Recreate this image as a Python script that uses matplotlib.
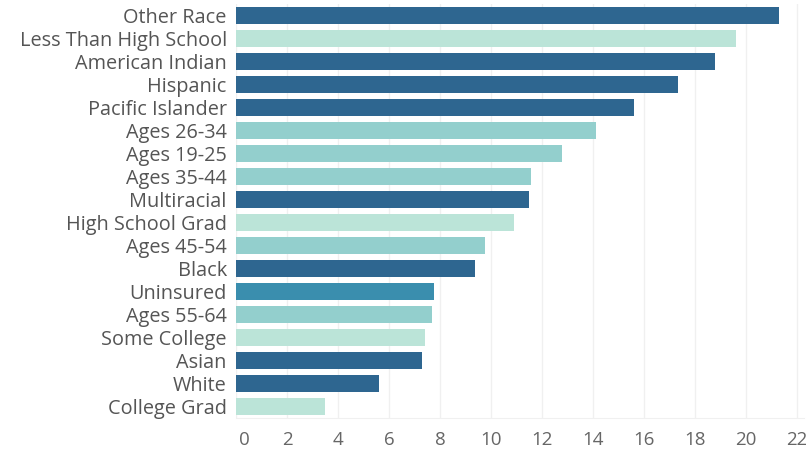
import matplotlib
matplotlib.use("Agg")
import matplotlib.pyplot as plt
from matplotlib.transforms import ScaledTranslation

# groups listed top to bottom
categories = [
    "Other Race", "Less Than High School", "American Indian", "Hispanic",
    "Pacific Islander", "Ages 26-34", "Ages 19-25", "Ages 35-44",
    "Multiracial", "High School Grad", "Ages 45-54", "Black",
    "Uninsured", "Ages 55-64", "Some College", "Asian", "White",
    "College Grad",
]
values = [
    21.3, 19.6, 18.8, 17.35, 15.6, 14.1, 12.8, 11.55, 11.5, 10.9,
    9.77, 9.38, 7.77, 7.66, 7.4, 7.3, 5.6, 3.46,
]
# grouping determines the bar colour
groups = [
    "race", "edu", "race", "race", "race", "age", "age", "age", "race",
    "edu", "age", "race", "ins", "age", "edu", "race", "race", "edu",
]
ticks = list(range(0, 23, 2))

palette = {
    "race": "#2e6690",
    "edu": "#bbe4d8",
    "age": "#93cfcd",
    "ins": "#3a8eae",
}

plt.rcParams["font.family"] = ["Open Sans", "DejaVu Sans"]

fig = plt.figure(figsize=(8.06, 4.5), dpi=100)
ax = fig.add_axes([0.2934, 0.0722, 0.7045, 0.918])

ypos = list(range(len(categories)))
ax.barh(ypos, values, height=0.74, color=[palette[g] for g in groups],
        zorder=2)

ax.set_ylim(len(categories) - 0.5, -0.5)
ax.set_xlim(0, 22.3)
ax.set_yticks(ypos)
ax.set_yticklabels(categories, fontsize=14.3, color="#555555")
ax.set_xticks(ticks)
ax.set_xticklabels([str(t) for t in ticks], fontsize=13.5, color="#666666")
ax.tick_params(axis="y", length=0, pad=7)
ax.tick_params(axis="x", length=0, pad=10)

# nudge the zero label off the left edge of the axis
zero_lbl = ax.get_xticklabels()[0]
zero_lbl.set_transform(zero_lbl.get_transform()
                       + ScaledTranslation(8 / 100, 0, fig.dpi_scale_trans))

ax.grid(axis="x", color="#f0f0f0", linewidth=1, zorder=0)
for side in ["top", "right", "left"]:
    ax.spines[side].set_visible(False)
ax.spines["bottom"].set_color("#f0f0f0")

fig.savefig("out.png", dpi=100, facecolor="white")
